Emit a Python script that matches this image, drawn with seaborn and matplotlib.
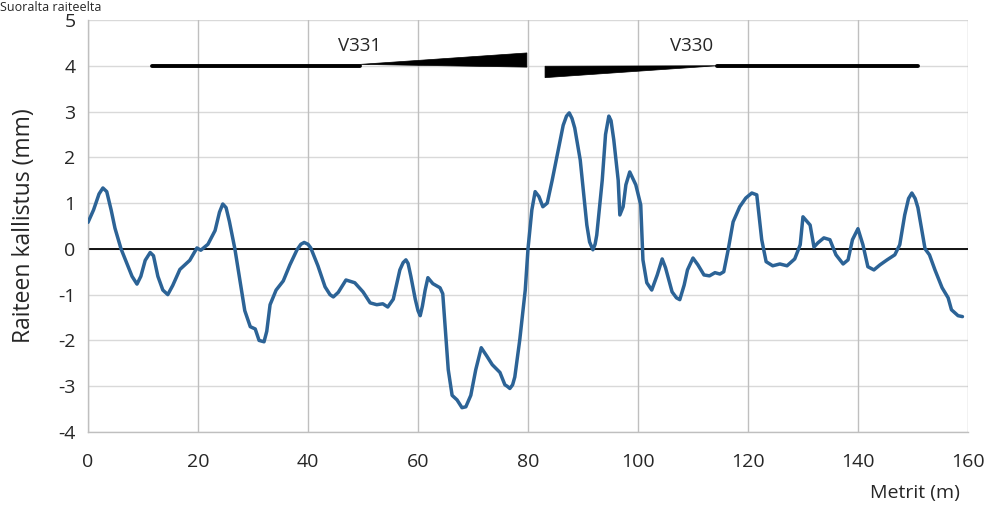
import matplotlib
matplotlib.use("Agg")
import matplotlib.pyplot as plt
import seaborn as sns
import pandas as pd

# Track cant measurement along the section (metres, mm)
metrit = [0, 1.0, 2.0, 2.7, 3.4, 4.2, 4.9, 6.0, 7.0, 8.0, 8.9, 9.6, 10.4, 11.3, 11.9, 12.7,
          13.6, 14.5, 15.4, 16.7, 18.5, 19.8, 20.5, 21.8, 23.1, 23.9, 24.5, 25.1, 25.7, 26.7,
          28.5, 29.5, 30.4, 31.1, 32.0, 32.5, 33.1, 34.2, 35.5, 36.7, 38.0, 38.7, 39.3, 40.0,
          40.5, 41.8, 43.1, 44.0, 44.6, 45.5, 46.9, 48.5, 50.0, 51.3, 52.5, 53.6, 54.5, 55.5,
          56.7, 57.3, 57.8, 58.2, 58.7, 59.5, 60.0, 60.4, 60.8, 61.3, 61.8, 62.7, 64.0, 64.5,
          65.5, 66.2, 67.1, 68.0, 68.7, 69.6, 70.5, 71.5, 72.5, 73.5, 74.9, 75.8, 76.2, 76.7,
          77.2, 77.6, 78.5, 79.5, 80.0, 80.7, 81.3, 82.0, 82.7, 83.5, 84.4, 85.5, 86.4, 87.0,
          87.5, 88.0, 88.5, 89.5, 90.7, 91.2, 91.8, 92.2, 92.5, 93.5, 94.1, 94.7, 95.1, 95.6,
          96.4, 96.7, 97.3, 97.8, 98.5, 99.6, 100.5, 100.9, 101.6, 102.5, 103.5, 104.4, 105.0,
          106.2, 107.0, 107.6, 108.4, 109.0, 110.0, 110.9, 112.0, 113.0, 114.0, 114.9, 115.6,
          116.4, 117.3, 118.5, 119.6, 120.7, 121.6, 122.5, 123.3, 124.5, 125.8, 127.1, 128.5,
          129.5, 130.0, 130.5, 131.3, 132.0, 132.7, 133.8, 134.9, 136.0, 137.3, 138.2, 139.0,
          140.0, 140.9, 141.8, 142.9, 144.0, 145.3, 146.7, 147.6, 148.5, 149.2, 149.8, 150.4,
          150.9, 152.2, 153.0, 154.0, 155.3, 156.4, 157.0, 158.2, 159.0]
kallistus = [0.58, 0.85, 1.2, 1.33, 1.25, 0.85, 0.45, 0.0, -0.3, -0.6, -0.77, -0.6, -0.25,
             -0.08, -0.15, -0.6, -0.9, -1.0, -0.8, -0.45, -0.25, 0.02, -0.03, 0.1, 0.4, 0.8,
             0.98, 0.9, 0.6, 0.0, -1.35, -1.7, -1.75, -2.0, -2.03, -1.8, -1.22, -0.9, -0.7,
             -0.35, -0.02, 0.1, 0.14, 0.1, 0.02, -0.37, -0.83, -1.0, -1.05, -0.95, -0.68,
             -0.74, -0.94, -1.18, -1.22, -1.2, -1.27, -1.1, -0.46, -0.3, -0.24, -0.32, -0.6,
             -1.1, -1.35, -1.46, -1.25, -0.9, -0.63, -0.76, -0.85, -0.98, -2.64, -3.2, -3.3,
             -3.47, -3.45, -3.2, -2.64, -2.16, -2.34, -2.53, -2.7, -2.97, -3.0, -3.05, -2.97,
             -2.8, -1.99, -0.9, 0.0, 0.85, 1.25, 1.14, 0.92, 1.0, 1.5, 2.16, 2.7, 2.9, 2.97,
             2.85, 2.64, 1.94, 0.52, 0.15, -0.02, 0.1, 0.3, 1.5, 2.5, 2.9, 2.8, 2.38, 1.5, 0.74,
             0.92, 1.4, 1.68, 1.4, 0.96, -0.24, -0.74, -0.9, -0.57, -0.22, -0.41, -0.94, -1.07,
             -1.11, -0.79, -0.46, -0.2, -0.35, -0.57, -0.59, -0.52, -0.55, -0.5, -0.02, 0.59,
             0.92, 1.11, 1.22, 1.18, 0.2, -0.28, -0.37, -0.33, -0.37, -0.22, 0.09, 0.7, 0.63,
             0.52, 0.04, 0.13, 0.24, 0.2, -0.13, -0.33, -0.24, 0.2, 0.44, 0.09, -0.39, -0.46,
             -0.35, -0.24, -0.13, 0.09, 0.74, 1.1, 1.22, 1.1, 0.9, 0.0, -0.13, -0.46, -0.85,
             -1.07, -1.33, -1.46, -1.48]

x_ticks = [0, 20, 40, 60, 80, 100, 120, 140, 160]
y_ticks = [-4, -3, -2, -1, 0, 1, 2, 3, 4, 5]
vaihteet = ["V331", "V330"]

df = pd.DataFrame({"Metrit": metrit, "Kallistus": kallistus})

sns.set_style("white")
plt.rcParams["font.family"] = ["Open Sans", "DejaVu Sans"]

fig = plt.figure(figsize=(9.87, 5.07), dpi=100)
ax = fig.add_axes([0.0892, 0.148, 0.8915, 0.8126])

ax.set_xlim(0, 160)
ax.set_ylim(-4, 5)
ax.set_xticks(x_ticks)
ax.set_yticks(y_ticks)
ax.set_xticklabels([str(t) for t in x_ticks], fontsize=14)
ax.set_yticklabels([str(t) for t in y_ticks], fontsize=14)
ax.tick_params(axis="x", length=0, pad=15)
ax.tick_params(axis="y", length=0, pad=9)

# grid: horizontal light, vertical slightly darker
for t in y_ticks:
    ax.axhline(t, color="#d9d9d9", lw=1.0, zorder=0)
for t in x_ticks:
    ax.axvline(t, color="#bfbfbf", lw=1.0, zorder=0)
ax.axhline(0, color="black", lw=1.3, zorder=1)

for side in ["top", "right"]:
    ax.spines[side].set_visible(False)
for side in ["left", "bottom"]:
    ax.spines[side].set_color("#bfbfbf")
    ax.spines[side].set_linewidth(1.0)

sns.lineplot(data=df, x="Metrit", y="Kallistus", ax=ax, color="#2C6396",
             lw=2.5, zorder=3, solid_joinstyle="round", solid_capstyle="round")

# switch markers (turnout extents)
ax.plot([11.6, 49.5], [4.0, 4.0], color="black", lw=2.8, solid_capstyle="round", zorder=4)
ax.fill([49.5, 79.8, 79.8], [4.03, 4.28, 3.97], color="black", lw=0.5, zorder=4)
ax.fill([83.1, 83.1, 114.4], [3.99, 3.74, 4.0], color="black", lw=0.5, zorder=4)
ax.plot([114.4, 150.9], [4.0, 4.0], color="black", lw=2.8, solid_capstyle="round", zorder=4)
ax.text(49.3, 4.44, vaihteet[0], ha="center", va="center", fontsize=13.5)
ax.text(109.8, 4.44, vaihteet[1], ha="center", va="center", fontsize=13.5)

ax.set_xlabel("")
ax.set_ylabel("Raiteen kallistus (mm)", fontsize=16.5, labelpad=16)
fig.text(0.927, 0.018, "Metrit (m)", ha="center", va="baseline", fontsize=14)
fig.text(0.0, 0.999, "Suoralta raiteelta", ha="left", va="top", fontsize=9)

fig.savefig("out.png", dpi=100)
